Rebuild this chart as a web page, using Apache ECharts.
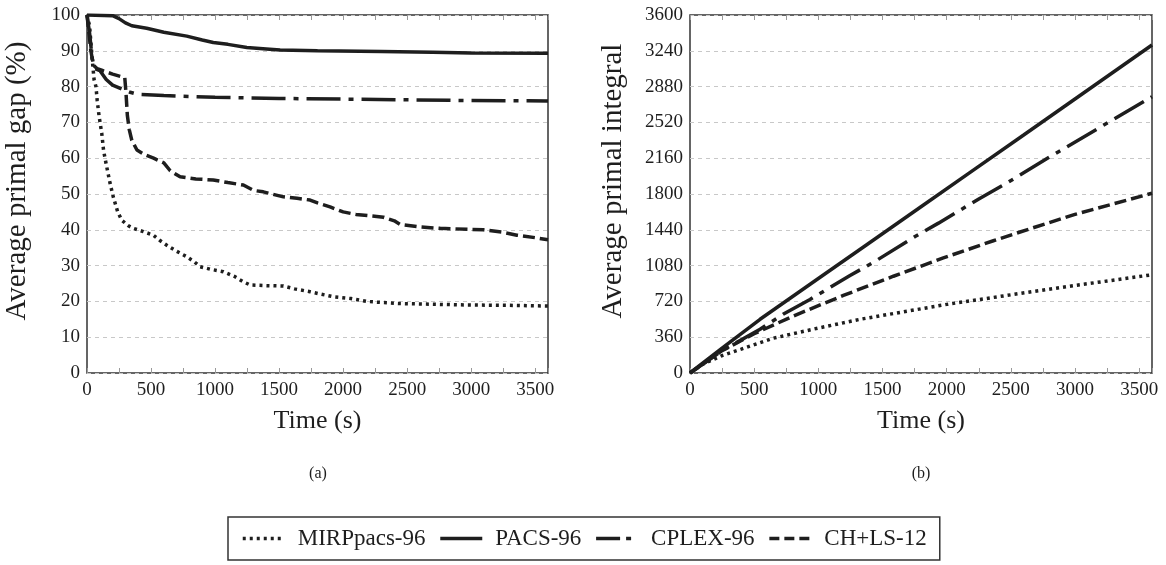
<!DOCTYPE html>
<html><head><meta charset="utf-8">
<script src="https://cdn.jsdelivr.net/npm/echarts@6/dist/echarts.min.js"></script>
<style>html,body{margin:0;padding:0;background:#fff}#c{width:1166px;height:565px}</style>
</head><body><div id="c"></div><script>
// Series names
const seriesNames = ['MIRPpacs-96', 'PACS-96', 'CPLEX-96', 'CH+LS-12'];

// (a) Average primal gap (%) vs time (s)
const gapMirp = [[0,100],[20,97],[40,88],[55,82],[70,80],[80,76],[95,71.6],[115,67],[130,62],[154,57.6],[180,53],[205,49.2],[240,45],[271,42.7],[320,41.2],[362,40.4],[440,39.5],[518,38.5],[570,37],[623,35.7],[700,34],[779,32.5],[840,31],[883,29.7],[960,29],[1065,28.3],[1150,27],[1220,25.5],[1273,24.6],[1400,24.4],[1534,24.3],[1620,23.5],[1742,22.7],[1830,22],[1924,21.3],[2060,20.8],[2185,20],[2300,19.7],[2445,19.4],[2700,19.2],[2966,19],[3300,18.9],[3600,18.7]];
const gapPacs = [[0,100],[200,99.8],[250,99],[300,97.8],[350,97],[466,96.3],[600,95.2],[779,94.1],[900,93],[986,92.3],[1100,91.8],[1248,90.9],[1400,90.5],[1508,90.2],[1800,90],[2300,89.8],[2700,89.6],[3000,89.4],[3600,89.3]];
const gapCplex = [[0,100],[20,95],[40,88],[60,85],[100,84.5],[150,82],[200,80.4],[260,79.5],[330,78.5],[400,77.8],[600,77.5],[1000,77],[1500,76.7],[2000,76.5],[2500,76.3],[3000,76.1],[3600,76]];
const gapChls = [[0,100],[15,95],[30,90],[50,86],[80,85],[120,84.5],[200,83.5],[295,82.5],[305,78],[315,72],[330,68],[350,65],[390,62.3],[450,61],[520,60],[600,58.7],[650,56.5],[727,54.8],[850,54.2],[986,53.9],[1100,53.2],[1221,52.5],[1300,51],[1377,50.6],[1534,49.2],[1640,48.8],[1742,48.3],[1800,47.5],[1898,46.4],[2000,45],[2100,44.3],[2211,43.9],[2315,43.5],[2400,42.5],[2445,41.5],[2600,40.8],[2758,40.4],[3096,40],[3250,39.3],[3357,38.5],[3500,37.8],[3600,37.2]];

// (b) Average primal integral vs time (s)
const intMirp = [[0,0],[100,88],[250,175],[400,240],[649,350],[1000,452],[1325,540],[2001,690],[2572,800],[3000,880],[3600,988]];
const intPacs = [[0,0],[250,250],[546,540],[1000,950],[1377,1290],[1800,1672],[2208,2040],[2600,2393],[3000,2755],[3600,3298]];
const intCplex = [[0,0],[250,224],[546,440],[725,590],[935,740],[1247,980],[1442,1123],[1754,1373],[1936,1507],[2247,1747],[2442,1890],[2800,2170],[3248,2511],[3600,2778]];
const intChls = [[0,0],[250,225],[500,395],[805,573],[1195,780],[1585,973],[1974,1157],[2364,1330],[2572,1418],[3000,1595],[3600,1807]];

// Axis settings
const timeMax = 3600, timeTick = 250, timeLabelStep = 500;
const gapMax = 100, gapStep = 10;
const intMax = 3600, intStep = 360;

const FONT = 'Liberation Serif';
const INK = '#1e1e1e';
const styles = [
  {width: 3.5, type: [3, 4]},
  {width: 3.5, type: 'solid'},
  {width: 3.5, type: [34, 8, 5, 8]},
  {width: 3.5, type: [12, 5]}
];
const legendStyles = [
  {width: 3.5, type: [3, 4]},
  {width: 3.5, type: 'solid'},
  {width: 3.5, type: [24, 6, 5, 9]},
  {width: 3.5, type: [10, 5]}
];

function xAx(gi, top) {
  return {
    type: 'value', gridIndex: gi, min: 0, max: timeMax, interval: timeTick,
    position: top ? 'top' : 'bottom',
    name: top ? '' : 'Time (s)', nameLocation: 'middle', nameGap: 35,
    nameTextStyle: {fontFamily: FONT, fontSize: 26, color: INK},
    axisLine: {show: false},
    axisTick: {show: true, inside: true, length: 5, lineStyle: {color: '#999'}},
    axisLabel: {show: !top, fontFamily: FONT, fontSize: 19, color: INK, margin: 8,
      formatter: v => (v % timeLabelStep === 0 ? String(v) : '')},
    splitLine: {show: false}
  };
}
function yAx(gi, max, step, name, gap) {
  return {
    type: 'value', gridIndex: gi, min: 0, max: max, interval: step,
    name: name, nameLocation: 'middle', nameGap: gap,
    nameTextStyle: {fontFamily: FONT, fontSize: 29, color: INK, padding: [0, 0, 0, 26]},
    axisLine: {show: false},
    axisTick: {show: false},
    axisLabel: {fontFamily: FONT, fontSize: 19, color: INK, margin: 7, formatter: v => String(v)},
    splitLine: {show: true, lineStyle: {color: '#c8c8c8', type: [4, 4], width: 1}}
  };
}

const gapData = [gapMirp, gapPacs, gapCplex, gapChls];
const intData = [intMirp, intPacs, intCplex, intChls];
const series = [];
seriesNames.forEach((n, i) => {
  series.push({name: n, type: 'line', xAxisIndex: 0, yAxisIndex: 0, data: gapData[i],
    symbol: 'none', lineStyle: Object.assign({color: INK}, styles[i]), itemStyle: {color: INK}, z: 3, animation: false});
  series.push({name: n, type: 'line', xAxisIndex: 1, yAxisIndex: 1, data: intData[i],
    symbol: 'none', lineStyle: Object.assign({color: INK}, styles[i]), itemStyle: {color: INK}, z: 3, animation: false});
});

const chart = echarts.init(document.getElementById('c'), null, {renderer: 'canvas'});
chart.setOption({
  backgroundColor: '#fff',
  animation: false,
  grid: [
    {left: 87, top: 15, width: 461, height: 358, show: true, borderColor: '#333', borderWidth: 1.5, backgroundColor: 'transparent'},
    {left: 690, top: 15, width: 462, height: 358, show: true, borderColor: '#333', borderWidth: 1.5, backgroundColor: 'transparent'}
  ],
  xAxis: [xAx(0, false), xAx(1, false), xAx(0, true), xAx(1, true)],
  yAxis: [yAx(0, gapMax, gapStep, 'Average primal gap (%)', 55), yAx(1, intMax, intStep, 'Average primal integral', 62)],
  legend: {
    data: seriesNames.map((n, i) => ({name: n, lineStyle: Object.assign({color: INK}, legendStyles[i])})),
    left: 228, top: 517, orient: 'horizontal',
    padding: [10, 13, 10, 13], itemGap: 13, itemWidth: 42, itemHeight: 24,
    borderColor: '#333', borderWidth: 1.5,
    itemStyle: {opacity: 0},
    lineStyle: {width: 3.5},
    textStyle: {fontFamily: FONT, fontSize: 23, color: INK, padding: [0, 0, 0, 8]}
  },
  graphic: [
    {type: 'text', x: 318, y: 474, style: {text: '(a)', font: '16px "Liberation Serif"', fill: INK, textAlign: 'center', textVerticalAlign: 'middle'}},
    {type: 'text', x: 921, y: 474, style: {text: '(b)', font: '16px "Liberation Serif"', fill: INK, textAlign: 'center', textVerticalAlign: 'middle'}}
  ],
  series: series
});
</script></body></html>
